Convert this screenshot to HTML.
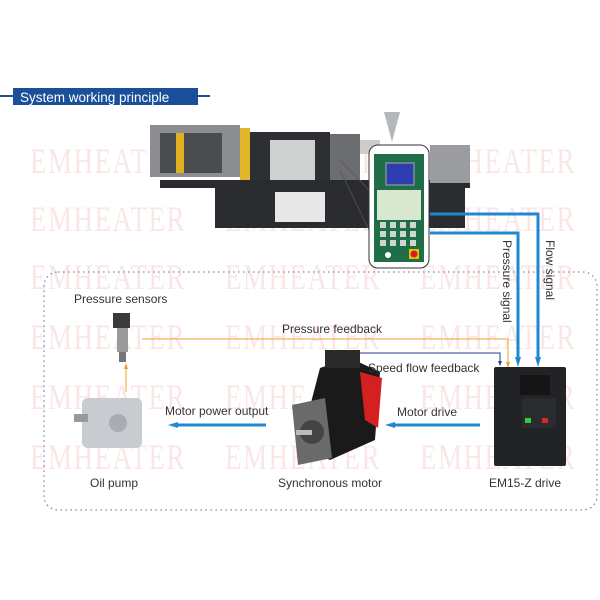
<!DOCTYPE html>
<html><head><style>
body{margin:0;width:600px;height:600px;background:#fff;position:relative;overflow:hidden;font-family:"Liberation Sans",sans-serif}
.wm{position:absolute;font-family:"Liberation Serif",serif;font-size:36px;color:#fbe6e6;transform:scaleX(0.75);transform-origin:left top;letter-spacing:2px;white-space:nowrap}
.t{position:absolute;font-size:12px;color:#333;white-space:nowrap}
</style></head><body>
<div class="wm" style="left:30px;top:140px">EMHEATER</div><div class="wm" style="left:225px;top:140px">EMHEATER</div><div class="wm" style="left:420px;top:140px">EMHEATER</div>
<div class="wm" style="left:30px;top:198px">EMHEATER</div><div class="wm" style="left:225px;top:198px">EMHEATER</div><div class="wm" style="left:420px;top:198px">EMHEATER</div>
<div class="wm" style="left:30px;top:256px">EMHEATER</div><div class="wm" style="left:225px;top:256px">EMHEATER</div><div class="wm" style="left:420px;top:256px">EMHEATER</div>
<div class="wm" style="left:30px;top:316px">EMHEATER</div><div class="wm" style="left:225px;top:316px">EMHEATER</div><div class="wm" style="left:420px;top:316px">EMHEATER</div>
<div class="wm" style="left:30px;top:376px">EMHEATER</div><div class="wm" style="left:225px;top:376px">EMHEATER</div><div class="wm" style="left:420px;top:376px">EMHEATER</div>
<div class="wm" style="left:30px;top:436px">EMHEATER</div><div class="wm" style="left:225px;top:436px">EMHEATER</div><div class="wm" style="left:420px;top:436px">EMHEATER</div>
<svg width="600" height="600" style="position:absolute;left:0;top:0">
<defs>
<marker id="ab" markerUnits="userSpaceOnUse" markerWidth="10" markerHeight="10" refX="5" refY="5" orient="auto"><path d="M0,2 L10,5 L0,8z" fill="#1e88d0"/></marker>
</defs>
<rect x="0" y="95" width="210" height="2" fill="#1a4f9a"/>
<rect x="13" y="88" width="185" height="17" fill="#1a4f9a"/>
<text x="20" y="102" font-size="13.5" fill="#fff" font-family="Liberation Sans">System working principle</text>
<rect x="44" y="272" width="553" height="238" rx="14" fill="none" stroke="#7a8aa8" stroke-width="1.3" stroke-dasharray="1.5,3.5"/>
<!-- machine -->
<rect x="150" y="125" width="90" height="52" fill="#8b8d90"/>
<rect x="160" y="133" width="62" height="40" fill="#4a4c50"/>
<rect x="176" y="133" width="8" height="40" fill="#e0b020"/>
<rect x="240" y="128" width="10" height="58" fill="#e2b62a"/>
<rect x="250" y="132" width="80" height="50" fill="#2d2f33"/>
<rect x="270" y="140" width="45" height="40" fill="#cfd0d0"/>
<rect x="330" y="134" width="30" height="48" fill="#6b6d70"/>
<rect x="360" y="140" width="20" height="14" fill="#ccc"/>
<rect x="160" y="180" width="310" height="8" fill="#2a2b2e"/>
<rect x="215" y="188" width="250" height="40" fill="#2b2c30"/>
<rect x="275" y="192" width="50" height="30" fill="#e8e8e8"/>
<rect x="430" y="145" width="40" height="38" fill="#9a9c9f"/>
<path d="M384,112 L400,112 L392,142z" fill="#b5b8bb"/>
<!-- controller -->
<rect x="369" y="145" width="60" height="123" rx="9" fill="#fff" stroke="#333" stroke-width="1"/>
<rect x="374" y="154" width="50" height="108" fill="#1f6e48"/>
<rect x="386" y="163" width="28" height="22" fill="#2f3bb0" stroke="#aaa"/>
<rect x="377" y="190" width="44" height="30" fill="#d8e8d0"/>
<g fill="#cfd6d0"><rect x="380" y="222" width="6" height="6"/><rect x="390" y="222" width="6" height="6"/><rect x="400" y="222" width="6" height="6"/><rect x="410" y="222" width="6" height="6"/><rect x="380" y="231" width="6" height="6"/><rect x="390" y="231" width="6" height="6"/><rect x="400" y="231" width="6" height="6"/><rect x="410" y="231" width="6" height="6"/><rect x="380" y="240" width="6" height="6"/><rect x="390" y="240" width="6" height="6"/><rect x="400" y="240" width="6" height="6"/><rect x="410" y="240" width="6" height="6"/></g>
<circle cx="388" cy="255" r="3" fill="#fff"/><rect x="409" y="249" width="10" height="10" fill="#e8c000"/><circle cx="414" cy="254" r="3.5" fill="#d02020"/>
<path d="M340,160 L369,190 M340,170 L369,230" stroke="#555" stroke-width="0.8"/>
<!-- blue signals -->
<path d="M430,214 H538 V362" fill="none" stroke="#1e88d0" stroke-width="3" marker-end="url(#ab)"/>
<path d="M430,233 H518 V362" fill="none" stroke="#1e88d0" stroke-width="3" marker-end="url(#ab)"/>
<text transform="translate(503,240) rotate(90)" font-size="12" fill="#333" font-family="Liberation Sans">Pressure signal</text>
<text transform="translate(546,240) rotate(90)" font-size="12" fill="#333" font-family="Liberation Sans">Flow signal</text>
<path d="M142,339 H508 V366" fill="none" stroke="#f0a030" stroke-width="1"/>
<path d="M506,362 L508,368 L510,362z" fill="#f0a030"/>
<path d="M352,376 V353 H500 V364" fill="none" stroke="#2a3a9a" stroke-width="1"/>
<path d="M498,361 L500,366 L502,361z" fill="#2a3a9a"/>
<path d="M126,392 V366" stroke="#f0a030" stroke-width="1"/>
<path d="M124,369 L126,363 L128,369z" fill="#f0a030"/>
<line x1="480" y1="425" x2="390" y2="425" stroke="#1e88d0" stroke-width="3" marker-end="url(#ab)"/>
<line x1="266" y1="425" x2="173" y2="425" stroke="#1e88d0" stroke-width="3" marker-end="url(#ab)"/>
<!-- sensor -->
<rect x="113" y="313" width="17" height="15" fill="#3a3a3a"/>
<rect x="117" y="328" width="11" height="24" fill="#9a9a9a"/>
<rect x="119" y="352" width="7" height="10" fill="#777"/>
<!-- pump -->
<rect x="82" y="398" width="60" height="50" rx="6" fill="#c8cbcf"/>
<rect x="74" y="414" width="14" height="8" fill="#999"/>
<circle cx="118" cy="423" r="9" fill="#a9adb1"/>
<!-- motor -->
<path d="M320,368 L350,358 L380,372 L375,440 L330,460 L300,445z" fill="#1a1a1a"/>
<path d="M360,372 L382,378 L378,428 L365,420z" fill="#d42020"/>
<rect x="325" y="350" width="35" height="18" fill="#2a2a2a"/>
<path d="M292,405 L325,398 L332,458 L298,465z" fill="#6a6a6a"/>
<circle cx="312" cy="432" r="12" fill="#444"/><rect x="296" y="430" width="16" height="5" fill="#bbb"/>
<!-- drive -->
<rect x="494" y="367" width="72" height="99" rx="2" fill="#222326"/>
<rect x="520" y="375" width="30" height="20" fill="#151515"/>
<rect x="522" y="398" width="34" height="30" fill="#2a2b2e"/>
<rect x="525" y="418" width="6" height="5" fill="#3c3"/><rect x="542" y="418" width="6" height="5" fill="#d22"/>
</svg>
<div class="t" style="left:74px;top:292px">Pressure sensors</div>
<div class="t" style="left:282px;top:322px">Pressure feedback</div>
<div class="t" style="left:368px;top:361px">Speed flow feedback</div>
<div class="t" style="left:165px;top:404px">Motor power output</div>
<div class="t" style="left:397px;top:405px">Motor drive</div>
<div class="t" style="left:90px;top:476px">Oil pump</div>
<div class="t" style="left:278px;top:476px">Synchronous motor</div>
<div class="t" style="left:489px;top:476px">EM15-Z drive</div>
</body></html>
